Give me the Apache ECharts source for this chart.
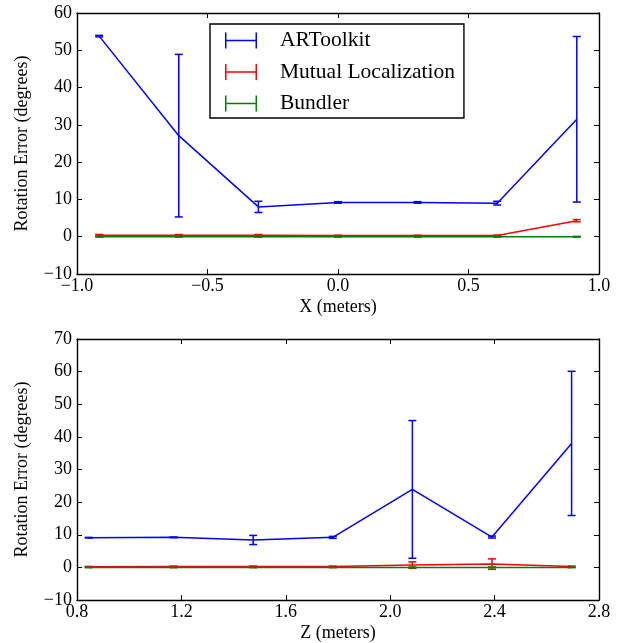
<!DOCTYPE html>
<html>
<head>
<meta charset="utf-8">
<script src="https://cdn.jsdelivr.net/npm/echarts@6/dist/echarts.min.js"></script>
<style>
  html, body { margin: 0; padding: 0; background: #fff; }
  #main { width: 621px; height: 643px; }
</style>
</head>
<body>
<div id="main"></div>
<script>
const seriesNames = ['ARToolkit', 'Mutual Localization', 'Bundler'];
const seriesColors = ['#0000ff', '#ff0000', '#008000'];

// top plot: error vs X
const xPos = [-0.915, -0.61, -0.305, 0, 0.305, 0.61, 0.915];
const xArToolkitMean = [53.8, 27.1, 8.0, 9.2, 9.2, 9.0, 31.5];
const xArToolkitErr = [0.2, 21.8, 1.5, 0.2, 0.2, 0.5, 22.2];
const xMutualMean = [0.4, 0.4, 0.4, 0.3, 0.3, 0.3, 4.3];
const xMutualErr = [0.2, 0.2, 0.2, 0.1, 0.1, 0.1, 0.3];
const xBundlerMean = [0, 0, 0, 0, 0, 0, 0];
const xBundlerErr = [0.1, 0.1, 0.1, 0.1, 0.1, 0.1, 0.1];

// bottom plot: error vs Z
const zPos = [0.845, 1.17, 1.475, 1.78, 2.085, 2.39, 2.695];
const zArToolkitMean = [9.1, 9.2, 8.4, 9.2, 23.9, 9.3, 38.0];
const zArToolkitErr = [0.1, 0.1, 1.4, 0.3, 21.1, 0.3, 22.1];
const zMutualMean = [0.2, 0.3, 0.3, 0.3, 0.7, 1.0, 0.3];
const zMutualErr = [0.1, 0.1, 0.1, 0.1, 1.0, 1.6, 0.1];
const zBundlerMean = [0, 0, 0, 0, 0, 0, 0];
const zBundlerErr = [0.1, 0.1, 0.1, 0.1, 0.1, 0.1, 0.1];

const font = 'Liberation Serif';
const minus = s => String(s).replace('-', '\u2212');

function lineSeries(idx, xs, means, axis) {
  return {
    type: 'line',
    name: seriesNames[idx],
    xAxisIndex: axis,
    yAxisIndex: axis,
    data: xs.map((x, i) => [x, means[i]]),
    symbol: 'none',
    color: seriesColors[idx],
    lineStyle: { color: seriesColors[idx], width: 1.5 },
    animation: false
  };
}

function errorSeries(idx, xs, means, errs, axis) {
  const color = seriesColors[idx];
  return {
    type: 'custom',
    name: seriesNames[idx] + ' err',
    xAxisIndex: axis,
    yAxisIndex: axis,
    data: xs.map((x, i) => [x, means[i] - errs[i], means[i] + errs[i]]),
    encode: { x: 0, y: [1, 2] },
    renderItem: (params, api) => {
      const lo = api.coord([api.value(0), api.value(1)]);
      const hi = api.coord([api.value(0), api.value(2)]);
      const w = 4;
      const st = { stroke: color, lineWidth: 1.5 };
      return {
        type: 'group',
        children: [
          { type: 'line', shape: { x1: lo[0], y1: lo[1], x2: hi[0], y2: hi[1] }, style: st },
          { type: 'line', shape: { x1: lo[0] - w, y1: lo[1], x2: lo[0] + w, y2: lo[1] }, style: st },
          { type: 'line', shape: { x1: hi[0] - w, y1: hi[1], x2: hi[0] + w, y2: hi[1] }, style: st }
        ]
      };
    },
    animation: false
  };
}

function xAxisPair(grid, min, max, interval, title) {
  const tick = { show: true, inside: true, length: 5, lineStyle: { color: '#000', width: 1 } };
  return [
    {
      type: 'value', gridIndex: grid, position: 'bottom', min: min, max: max, interval: interval,
      name: title, nameLocation: 'middle', nameGap: 24,
      nameTextStyle: { fontFamily: font, fontSize: 18, color: '#000' },
      axisLine: { show: true, onZero: false, lineStyle: { color: '#000', width: 1.4 } },
      axisTick: tick,
      axisLabel: { fontFamily: font, fontSize: 18, color: '#000', margin: 3,
        formatter: v => minus(v.toFixed(1)) },
      splitLine: { show: false }
    },
    {
      type: 'value', gridIndex: grid, position: 'top', min: min, max: max, interval: interval,
      axisLine: { show: true, onZero: false, lineStyle: { color: '#000', width: 1.4 } },
      axisTick: tick,
      axisLabel: { show: false },
      splitLine: { show: false }
    }
  ];
}

function yAxisPair(grid, min, max, interval) {
  const tick = { show: true, inside: true, length: 5, lineStyle: { color: '#000', width: 1 } };
  return [
    {
      type: 'value', gridIndex: grid, position: 'left', min: min, max: max, interval: interval,
      name: 'Rotation Error (degrees)', nameLocation: 'middle', nameGap: 46,
      nameTextStyle: { fontFamily: font, fontSize: 18, color: '#000' },
      axisLine: { show: true, onZero: false, lineStyle: { color: '#000', width: 1.4 } },
      axisTick: tick,
      axisLabel: { fontFamily: font, fontSize: 18, color: '#000', margin: 5,
        formatter: v => minus(v) },
      splitLine: { show: false }
    },
    {
      type: 'value', gridIndex: grid, position: 'right', min: min, max: max, interval: interval,
      axisLine: { show: true, onZero: false, lineStyle: { color: '#000', width: 1.4 } },
      axisTick: tick,
      axisLabel: { show: false },
      splitLine: { show: false }
    }
  ];
}

const chart = echarts.init(document.getElementById('main'), null, { renderer: 'canvas' });

const option = {
  backgroundColor: '#fff',
  animation: false,
  grid: [
    { left: 77, right: 22, top: 13, height: 261 },
    { left: 77, right: 22, top: 339, height: 261 }
  ],
  xAxis: [
    ...xAxisPair(0, -1, 1, 0.5, 'X (meters)'),
    ...xAxisPair(1, 0.8, 2.8, 0.4, 'Z (meters)')
  ],
  yAxis: [
    ...yAxisPair(0, -10, 60, 10),
    ...yAxisPair(1, -10, 70, 10)
  ],
  legend: {
    data: seriesNames,
    orient: 'vertical',
    left: 210,
    top: 24,
    padding: [5.5, 9, 3.5, 15],
    itemGap: 9.5,
    itemWidth: 32,
    itemHeight: 16,
    icon: 'path://M0,0h1.5v16h-1.5z M0,7.25h32v1.5h-32z M30.5,0h1.5v16h-1.5z',
    itemStyle: { borderWidth: 0 },
    selectedMode: false,
    backgroundColor: '#fff',
    borderColor: '#000',
    borderWidth: 1.4,
    borderRadius: 0,
    textStyle: { fontFamily: font, fontSize: 21.5, lineHeight: 22, color: '#000', padding: [0, 0, 0, 18] }
  },
  series: [
    lineSeries(0, xPos, xArToolkitMean, 0),
    errorSeries(0, xPos, xArToolkitMean, xArToolkitErr, 0),
    lineSeries(1, xPos, xMutualMean, 0),
    errorSeries(1, xPos, xMutualMean, xMutualErr, 0),
    lineSeries(2, xPos, xBundlerMean, 0),
    errorSeries(2, xPos, xBundlerMean, xBundlerErr, 0),
    lineSeries(0, zPos, zArToolkitMean, 2),
    errorSeries(0, zPos, zArToolkitMean, zArToolkitErr, 2),
    lineSeries(1, zPos, zMutualMean, 2),
    errorSeries(1, zPos, zMutualMean, zMutualErr, 2),
    lineSeries(2, zPos, zBundlerMean, 2),
    errorSeries(2, zPos, zBundlerMean, zBundlerErr, 2)
  ]
};

chart.setOption(option);
</script>
</body>
</html>
